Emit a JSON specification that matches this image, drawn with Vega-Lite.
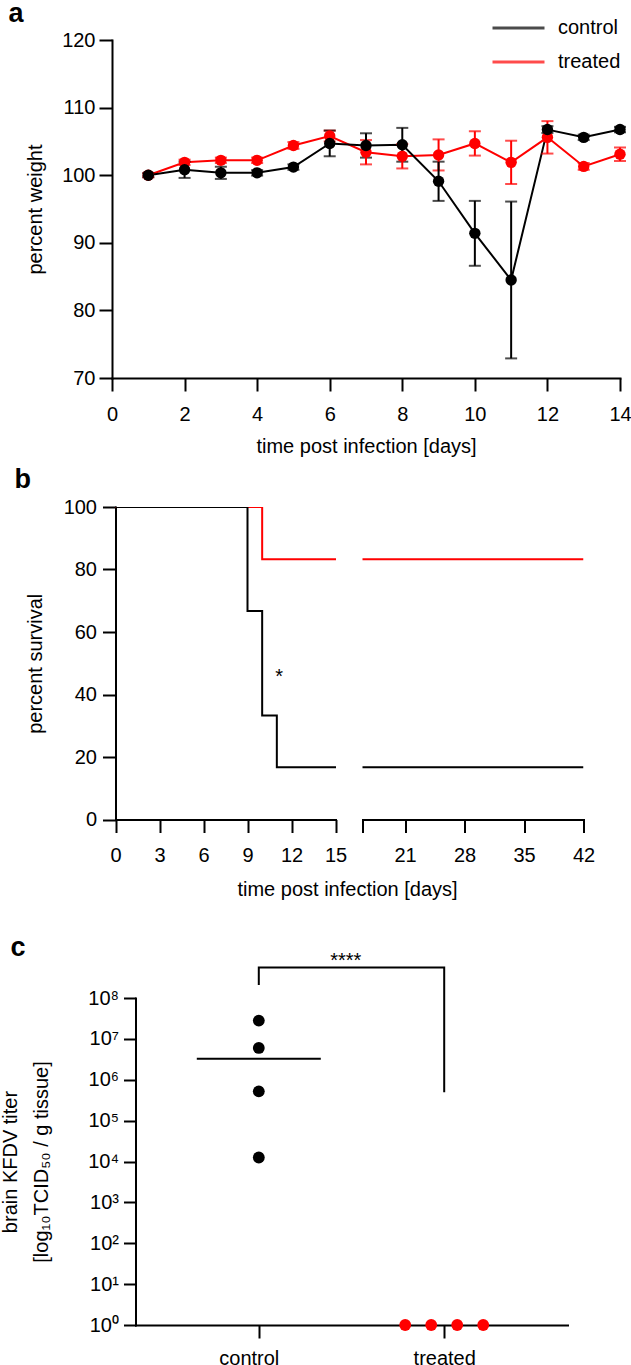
{
  "$schema": "https://vega.github.io/schema/vega-lite/v6.json",
  "background": "white",
  "padding": {"left": 0, "top": 0, "right": 0, "bottom": 0},
  "spacing": 10,
  "config": {
    "font": "Liberation Sans",
    "view": {"stroke": null},
    "axis": {
      "domainColor": "black", "domainWidth": 2, "domainCap": "square",
      "tickColor": "black", "tickWidth": 2, "tickSize": 13,
      "labelColor": "black", "labelFontSize": 20, "labelFont": "Liberation Sans",
      "labelFlush": false, "labelOverlap": false, "labelBound": false,
      "titleFontSize": 20, "titleFontWeight": "normal", "titleColor": "black", "titleFont": "Liberation Sans",
      "grid": false
    },
    "title": {"fontSize": 27, "fontWeight": "bold", "anchor": "start", "frame": "group", "color": "black", "font": "Liberation Sans", "baseline": "alphabetic"}
  },
  "datasets": {
    "weight": [
      {"group": "treated", "day": 1, "mean": 100.0, "sd": 0.3},
      {"group": "treated", "day": 2, "mean": 101.9, "sd": 0.4},
      {"group": "treated", "day": 3, "mean": 102.2, "sd": 0.4},
      {"group": "treated", "day": 4, "mean": 102.2, "sd": 0.4},
      {"group": "treated", "day": 5, "mean": 104.4, "sd": 0.5},
      {"group": "treated", "day": 6, "mean": 105.8, "sd": 0.8},
      {"group": "treated", "day": 7, "mean": 103.4, "sd": 1.8},
      {"group": "treated", "day": 8, "mean": 102.8, "sd": 1.8},
      {"group": "treated", "day": 9, "mean": 103.0, "sd": 2.3},
      {"group": "treated", "day": 10, "mean": 104.7, "sd": 1.8},
      {"group": "treated", "day": 11, "mean": 101.9, "sd": 3.2},
      {"group": "treated", "day": 12, "mean": 105.6, "sd": 2.4},
      {"group": "treated", "day": 13, "mean": 101.3, "sd": 0.5},
      {"group": "treated", "day": 14, "mean": 103.1, "sd": 1.0},
      {"group": "control", "day": 1, "mean": 100.0, "sd": 0.3},
      {"group": "control", "day": 2, "mean": 100.8, "sd": 1.2},
      {"group": "control", "day": 3, "mean": 100.35, "sd": 0.9},
      {"group": "control", "day": 4, "mean": 100.35, "sd": 0.4},
      {"group": "control", "day": 5, "mean": 101.2, "sd": 0.4},
      {"group": "control", "day": 6, "mean": 104.7, "sd": 1.9},
      {"group": "control", "day": 7, "mean": 104.4, "sd": 1.8},
      {"group": "control", "day": 8, "mean": 104.5, "sd": 2.5},
      {"group": "control", "day": 9, "mean": 99.1, "sd": 2.9},
      {"group": "control", "day": 10, "mean": 91.4, "sd": 4.8},
      {"group": "control", "day": 11, "mean": 84.5, "sd": 11.6},
      {"group": "control", "day": 12, "mean": 106.75, "sd": 0.5},
      {"group": "control", "day": 13, "mean": 105.6, "sd": 0.4},
      {"group": "control", "day": 14, "mean": 106.75, "sd": 0.4}
    ],
    "survival": [
      {"group": "treated", "day": 0, "pct": 100},
      {"group": "treated", "day": 10, "pct": 83.3},
      {"group": "treated", "day": 42, "pct": 83.3},
      {"group": "control", "day": 0, "pct": 100},
      {"group": "control", "day": 9, "pct": 66.7},
      {"group": "control", "day": 10, "pct": 33.3},
      {"group": "control", "day": 11, "pct": 16.7},
      {"group": "control", "day": 42, "pct": 16.7}
    ],
    "survivalNote": [
      {"day": 11.15, "pct": 43.6, "label": "*"}
    ],
    "titer": [
      {"group": "control", "animal": "1", "titer": 28000000},
      {"group": "control", "animal": "2", "titer": 6000000},
      {"group": "control", "animal": "3", "titer": 520000},
      {"group": "control", "animal": "4", "titer": 12500},
      {"group": "treated", "animal": "1", "titer": 1},
      {"group": "treated", "animal": "2", "titer": 1},
      {"group": "treated", "animal": "3", "titer": 1},
      {"group": "treated", "animal": "4", "titer": 1}
    ],
    "bracket": [
      {"step": 1, "group": "control", "level": 220000000},
      {"step": 2, "group": "control", "level": 560000000},
      {"step": 3, "group": "treated", "level": 560000000},
      {"step": 4, "group": "treated", "level": 520000}
    ],
    "sig": [
      {"group": "control", "level": 560000000, "label": "****"}
    ]
  },
  "vconcat": [
    {
      "width": 508,
      "height": 338,
      "title": {"text": "a", "dx": -103.5, "offset": 2},
      "data": {"name": "weight"},
      "encoding": {
        "x": {"field": "day", "type": "quantitative",
              "scale": {"domain": [0, 14], "nice": false},
              "axis": {"values": [0, 2, 4, 6, 8, 10, 12, 14], "title": "time post infection [days]", "labelPadding": 13, "titlePadding": 12}},
        "y": {"field": "mean", "type": "quantitative",
              "scale": {"domain": [70, 120], "nice": false, "zero": false},
              "axis": {"values": [70, 80, 90, 100, 110, 120], "title": "percent weight", "labelPadding": 4, "titlePadding": 16}},
        "color": {"field": "group", "type": "nominal",
                  "scale": {"domain": ["control", "treated"], "range": ["#000000", "#ff0000"]},
                  "legend": {"title": null, "orient": "none", "legendX": 379, "legendY": -29, "symbolType": "stroke", "symbolSize": 2704, "symbolStrokeWidth": 3, "clipHeight": 34, "labelFontSize": 20, "labelOffset": 12, "labelColor": "black", "padding": 0, "rowPadding": 0}}
      },
      "layer": [
        {"mark": {"type": "line", "strokeWidth": 2}},
        {"mark": {"type": "errorbar", "ticks": {"size": 12, "thickness": 2}, "thickness": 2},
         "encoding": {"yError": {"field": "sd"}}},
        {"mark": {"type": "circle", "size": 130, "opacity": 1}}
      ]
    },
    {
      "hconcat": [
        {
          "width": 224,
          "height": 312.5,
          "title": {"text": "b", "dx": -97.5, "offset": 2.7},
          "layer": [
            {
              "data": {"name": "survival"},
              "mark": {"type": "line", "interpolate": "step-after", "strokeWidth": 2, "clip": true},
              "encoding": {
                "x": {"field": "day", "type": "quantitative",
                      "scale": {"domain": [0, 15], "range": [3.5, 223.5], "nice": false},
                      "axis": {"values": [0, 3, 6, 9, 12, 15], "title": ["time post infection [days]", " "], "titleLineHeight": 24, "titleX": 235, "labelPadding": 13, "titlePadding": 14}},
                "y": {"field": "pct", "type": "quantitative",
                      "scale": {"domain": [0, 100], "nice": false},
                      "axis": {"values": [0, 20, 40, 60, 80, 100], "title": "percent survival", "offset": -3.5, "labelPadding": 6, "titlePadding": 18}},
                "color": {"field": "group", "type": "nominal",
                          "scale": {"domain": ["control", "treated"], "range": ["#000000", "#ff0000"]}, "legend": null}
              }
            },
            {
              "data": {"name": "survivalNote"},
              "mark": {"type": "text", "fontSize": 20, "align": "center", "baseline": "alphabetic", "color": "black"},
              "encoding": {
                "x": {"field": "day", "type": "quantitative"},
                "y": {"field": "pct", "type": "quantitative"},
                "text": {"field": "label"}
              }
            }
          ]
        },
        {
          "width": 221,
          "height": 312.5,
          "data": {"name": "survival"},
          "mark": {"type": "line", "interpolate": "step-after", "strokeWidth": 2, "clip": true},
          "encoding": {
            "x": {"field": "day", "type": "quantitative",
                  "scale": {"domain": [16, 42], "nice": false},
                  "axis": {"values": [16, 21, 28, 35, 42], "labelExpr": "datum.value == 16 ? '' : datum.label", "title": null, "labelPadding": 13}},
            "y": {"field": "pct", "type": "quantitative", "scale": {"domain": [0, 100], "nice": false}, "axis": null},
            "color": {"field": "group", "type": "nominal",
                      "scale": {"domain": ["control", "treated"], "range": ["#000000", "#ff0000"]}, "legend": null}
          }
        }
      ],
      "spacing": 26.5,
      "bounds": "flush",
      "resolve": {"scale": {"x": "independent", "y": "independent", "color": "shared"}}
    },
    {
      "width": 456,
      "height": 327,
      "title": {"text": "c", "dx": -101.5, "offset": -11},
      "encoding": {
        "x": {"field": "group", "type": "nominal",
              "scale": {"type": "point", "domain": ["control", "treated"], "range": [23.5, 455.5], "padding": 0.665},
              "axis": {"title": null, "labelAngle": 0, "labelPadding": 10, "tickSize": 13,
                       "labelOffset": {"condition": {"test": "datum.value === 'control'", "value": -10}, "value": 0}}},
        "y": {"field": "titer", "type": "quantitative",
              "scale": {"type": "log", "domain": [1, 100000000], "nice": false},
              "axis": {"values": [1, 10, 100, 1000, 10000, 100000, 1000000, 10000000, 100000000],
                       "labelExpr": "'10' + ['⁰','¹','²','³','⁴','⁵','⁶','⁷','⁸'][round(log(datum.value)/LN10)]",
                       "title": ["brain KFDV titer", "[log₁₀TCID₅₀ / g tissue]"], "titleLineHeight": 31,
                       "offset": -23.5, "tickSize": 12, "labelPadding": 5, "titlePadding": 36.5}}
      },
      "layer": [
        {
          "data": {"name": "titer"},
          "transform": [{"filter": "datum.group === 'control'"}],
          "mark": {"type": "tick", "orient": "horizontal", "size": 124, "thickness": 2, "color": "black"},
          "encoding": {"y": {"field": "titer", "type": "quantitative", "aggregate": "median"}}
        },
        {
          "data": {"name": "titer"},
          "transform": [{"filter": "datum.group === 'control'"}],
          "mark": {"type": "circle", "size": 140, "opacity": 1},
          "encoding": {"color": {"field": "group", "type": "nominal", "scale": {"domain": ["control", "treated"], "range": ["#000000", "#ff0000"]}, "legend": null}}
        },
        {
          "data": {"name": "titer"},
          "transform": [{"filter": "datum.group === 'treated'"}],
          "mark": {"type": "circle", "size": 140, "opacity": 1},
          "encoding": {
            "xOffset": {"field": "animal", "type": "nominal", "scale": {"type": "point", "range": [-39, 39], "padding": 0}},
            "color": {"field": "group", "type": "nominal", "scale": {"domain": ["control", "treated"], "range": ["#000000", "#ff0000"]}, "legend": null}
          }
        },
        {
          "data": {"name": "bracket"},
          "mark": {"type": "line", "strokeWidth": 2, "color": "black", "strokeCap": "square"},
          "encoding": {
            "y": {"field": "level", "type": "quantitative"},
            "order": {"field": "step", "type": "quantitative"}
          }
        },
        {
          "data": {"name": "sig"},
          "mark": {"type": "text", "fontSize": 20, "align": "center", "baseline": "alphabetic", "dx": 87, "dy": 0, "color": "black"},
          "encoding": {
            "y": {"field": "level", "type": "quantitative"},
            "text": {"field": "label"}
          }
        }
      ]
    }
  ]
}
